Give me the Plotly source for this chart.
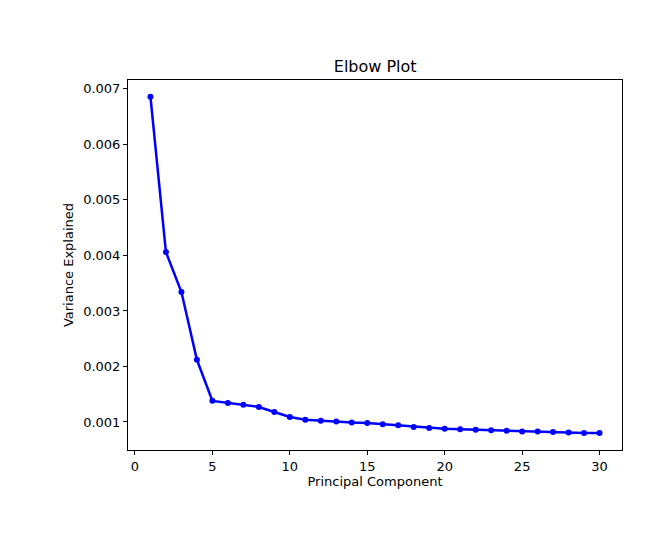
import plotly.graph_objects as go

components = list(range(1, 31))
variance = [0.00686, 0.00406, 0.00334, 0.00212, 0.00138, 0.00134, 0.00131, 0.00127,
            0.00118, 0.00109, 0.00104, 0.00102, 0.00101, 0.00099, 0.00098, 0.00096,
            0.00094, 0.00091, 0.00089, 0.00088, 0.00087, 0.00086, 0.00085, 0.00084,
            0.00083, 0.00083, 0.00082, 0.00081, 0.00080, 0.00080]

fig = go.Figure()
fig.add_trace(go.Scatter(x=components, y=variance, mode="lines+markers",
                         line=dict(color="blue", width=2.5),
                         marker=dict(color="blue", size=6)))

axis_style = dict(showline=True, linecolor="black", mirror=True, showgrid=False,
                  zeroline=False, ticks="outside", ticklen=4, tickcolor="black",
                  automargin=False, tickfont=dict(size=13))
fig.update_xaxes(range=[-0.45, 31.45], tickvals=[0, 5, 10, 15, 20, 25, 30],
                 title=dict(text="Principal Component", standoff=4, font=dict(size=13)),
                 **axis_style)
fig.update_yaxes(range=[0.000495, 0.00716], tickformat=".3f", dtick=0.001,
                 title=dict(text="Variance Explained", standoff=6, font=dict(size=13)),
                 **axis_style)
fig.update_layout(width=664, height=535, plot_bgcolor="white", paper_bgcolor="white",
                  showlegend=False,
                  font=dict(family="DejaVu Sans", size=13, color="black"),
                  title=dict(text="Elbow Plot", x=0.553, xanchor="center",
                             y=0.891, yanchor="middle", font=dict(size=16)),
                  margin=dict(l=120, r=50, t=72, b=93))
fig.write_html("out.html")
